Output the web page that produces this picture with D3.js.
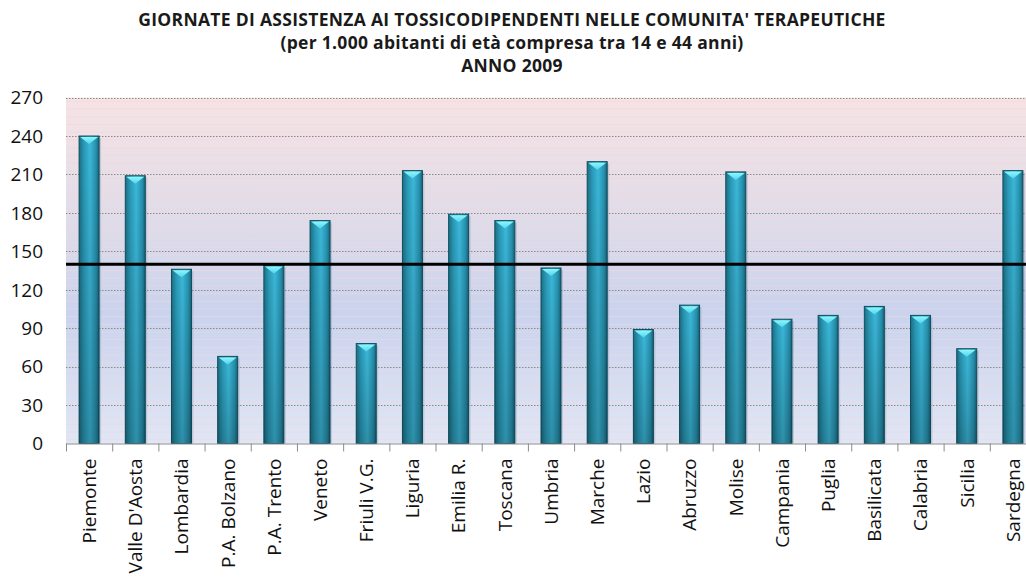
<!DOCTYPE html>
<html>
<head>
<meta charset="utf-8">
<script src="https://cdn.jsdelivr.net/npm/d3@7"></script>
<style>
    body { margin: 0; background: #fff; }
    svg { display: block; font-family: "Open Sans", sans-serif; }
</style>
</head>
<body>
<div id="container"></div>
<script>
// regions and values
const regions = ["Piemonte", "Valle D'Aosta", "Lombardia", "P.A. Bolzano", "P.A. Trento", "Veneto",
    "Friuli V.G.", "Liguria", "Emilia R.", "Toscana", "Umbria", "Marche", "Lazio", "Abruzzo",
    "Molise", "Campania", "Puglia", "Basilicata", "Calabria", "Sicilia", "Sardegna"]
const giornate = [240, 209, 136, 68, 139, 174, 78, 213, 179, 174, 137, 220, 89, 108, 212, 97, 100, 107, 100, 74, 213]
const mediaItalia = 140
const yTicks = [0, 30, 60, 90, 120, 150, 180, 210, 240, 270]
const titleLines = ["GIORNATE DI ASSISTENZA AI TOSSICODIPENDENTI NELLE COMUNITA' TERAPEUTICHE",
    "(per 1.000 abitanti di età compresa tra 14 e 44 anni)",
    "ANNO 2009"]

let width = 1026
let height = 577
let margin = {top: 97.6, right: -10, bottom: 133.5, left: 66}

let data = regions.map((name, i) => ({name: name, value: giornate[i]}))

let svg = d3.select("#container")
    .append("svg")
    .attr("width", width)
    .attr("height", height)

let x = d3.scaleBand()
    .domain(regions)
    .range([margin.left, width - margin.right])
    .paddingInner(0.567)
    .paddingOuter(0.2835)

let y = d3.scaleLinear()
    .domain([0, 270])
    .range([height - margin.bottom, margin.top])

let defs = svg.append("defs")

// plot background: pink on top, blue in the middle
let bg = defs.append("linearGradient").attr("id", "bg")
    .attr("x1", 0).attr("y1", 0).attr("x2", 0).attr("y2", 1)
bg.append("stop").attr("offset", "0%").attr("stop-color", "#f6e3e4")
bg.append("stop").attr("offset", "40%").attr("stop-color", "#dcdbea")
bg.append("stop").attr("offset", "62%").attr("stop-color", "#c9d3ee")
bg.append("stop").attr("offset", "100%").attr("stop-color", "#e0e6f5")

// bar body, darker on the edges
let barGrad = defs.append("linearGradient").attr("id", "barGrad")
    .attr("x1", 0).attr("y1", 0).attr("x2", 1).attr("y2", 0)
barGrad.append("stop").attr("offset", "0%").attr("stop-color", "#1c6f84")
barGrad.append("stop").attr("offset", "25%").attr("stop-color", "#2a9ab8")
barGrad.append("stop").attr("offset", "55%").attr("stop-color", "#3cb8da")
barGrad.append("stop").attr("offset", "85%").attr("stop-color", "#2690ad")
barGrad.append("stop").attr("offset", "100%").attr("stop-color", "#17627a")

let shade = defs.append("linearGradient").attr("id", "shade")
    .attr("x1", 0).attr("y1", 0).attr("x2", 0).attr("y2", 1)
shade.append("stop").attr("offset", "0%").attr("stop-color", "#000").attr("stop-opacity", 0)
shade.append("stop").attr("offset", "100%").attr("stop-color", "#000").attr("stop-opacity", 0.22)

let capGrad = defs.append("linearGradient").attr("id", "capGrad")
    .attr("x1", 0).attr("y1", 0).attr("x2", 0).attr("y2", 1)
capGrad.append("stop").attr("offset", "0%").attr("stop-color", "#8ff6fb")
capGrad.append("stop").attr("offset", "100%").attr("stop-color", "#4fd6ec")

let x0 = margin.left, x1 = width - margin.right

svg.append("rect")
    .attr("x", x0)
    .attr("y", y(270))
    .attr("width", x1 - x0)
    .attr("height", y(0) - y(270))
    .attr("fill", "url(#bg)")

// faint stripes in the background
svg.append("g")
    .selectAll("line")
    .data(d3.range(3, 270, 6))
    .join("line")
        .attr("x1", x0).attr("x2", x1)
        .attr("y1", d => y(d)).attr("y2", d => y(d))
        .attr("stroke", "#f4d6da")
        .attr("stroke-opacity", 0.6)

// dotted gridlines
svg.append("g")
    .selectAll("line")
    .data(yTicks.filter(d => d > 0))
    .join("line")
        .attr("x1", x0).attr("x2", x1)
        .attr("y1", d => Math.round(y(d)) + 0.5).attr("y2", d => Math.round(y(d)) + 0.5)
        .attr("stroke", "#8a8a8a")
        .attr("stroke-dasharray", "1.5,1.5")

// bars
let bars = svg.append("g")
    .selectAll("g")
    .data(data)
    .join("g")

bars.append("rect")
    .attr("x", d => x(d.name) + 2)
    .attr("y", d => y(d.value) + 2)
    .attr("width", x.bandwidth())
    .attr("height", d => y(0) - y(d.value) - 2)
    .attr("fill", "#6a7a90")
    .attr("opacity", 0.25)

bars.append("rect")
    .attr("x", d => x(d.name))
    .attr("y", d => y(d.value))
    .attr("width", x.bandwidth())
    .attr("height", d => y(0) - y(d.value))
    .attr("fill", "url(#barGrad)")
    .attr("stroke", "#0f4f60")
    .attr("stroke-width", 1)

bars.append("rect")
    .attr("x", d => x(d.name))
    .attr("y", d => y(d.value))
    .attr("width", x.bandwidth())
    .attr("height", d => y(0) - y(d.value))
    .attr("fill", "url(#shade)")

bars.append("path")
    .attr("d", d => {
        let l = x(d.name) + 1, r = x(d.name) + x.bandwidth() - 1, t = y(d.value) + 1
        let c = (l + r) / 2
        return `M${l},${t}L${r},${t}L${c},${t + 7}Z`
    })
    .attr("fill", "url(#capGrad)")

// x axis with ticks between the bars
let xAxis = svg.append("g")
xAxis.append("line")
    .attr("x1", x0).attr("x2", x1)
    .attr("y1", y(0) + 0.5).attr("y2", y(0) + 0.5)
    .attr("stroke", "#8c8c8c")
xAxis.selectAll(".tick")
    .data(d3.range(regions.length + 1))
    .join("line")
        .attr("class", "tick")
        .attr("x1", i => x0 + i * x.step() + 0.5)
        .attr("x2", i => x0 + i * x.step() + 0.5)
        .attr("y1", y(0))
        .attr("y2", y(0) + 8)
        .attr("stroke", "#8c8c8c")

xAxis.selectAll("text")
    .data(regions)
    .join("text")
        .attr("transform", d => `translate(${x(d) + x.bandwidth() / 2},${y(0) + 15}) rotate(-90)`)
        .attr("text-anchor", "end")
        .attr("dy", "0.36em")
        .attr("font-size", 19)
        .attr("fill", "#111")
        .text(d => d)

// y labels
svg.append("g")
    .selectAll("text")
    .data(yTicks)
    .join("text")
        .attr("x", 43)
        .attr("y", d => y(d))
        .attr("dy", "0.36em")
        .attr("text-anchor", "end")
        .attr("font-size", 19)
        .attr("fill", "#111")
        .text(d => d)

// average line
svg.append("line")
    .attr("x1", x0).attr("x2", x1)
    .attr("y1", y(mediaItalia)).attr("y2", y(mediaItalia))
    .attr("stroke", "#000")
    .attr("stroke-width", 3)

// title
svg.append("g")
    .selectAll("text")
    .data(titleLines)
    .join("text")
        .attr("x", 512)
        .attr("y", (d, i) => [26, 49, 72][i])
        .attr("text-anchor", "middle")
        .attr("font-weight", "bold")
        .attr("font-size", 17.5)
        .attr("letter-spacing", 0.3)
        .attr("fill", "#1a1a1a")
        .text(d => d)
</script>
</body>
</html>
